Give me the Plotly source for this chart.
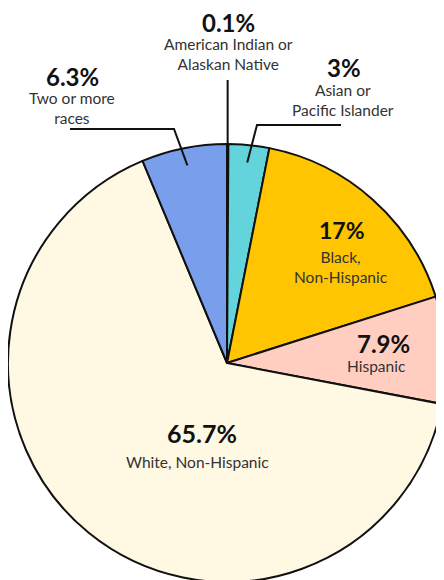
import math
import plotly.graph_objects as go

# ---- data ----
categories = ["American Indian or Alaskan Native", "Asian or Pacific Islander",
              "Black, Non-Hispanic", "Hispanic", "White, Non-Hispanic", "Two or more races"]
values = [0.1, 3, 17, 7.9, 65.7, 6.3]
pct_labels = ["0.1%", "3%", "17%", "7.9%", "65.7%", "6.3%"]
text_labels = ["American Indian or<br>Alaskan Native", "Asian or<br>Pacific Islander",
               "Black,<br>Non-Hispanic", "Hispanic", "White, Non-Hispanic",
               "Two or more<br>races"]
colors = ["#F2614F", "#63D3DC", "#FFC500", "#FFCEC0", "#FFF9E3", "#799EEC"]

OFF = 8  # page body margin
W, H = 444, 580
CX, CY, R = 227, 363, 219  # page pixel coordinates of the pie

def px(x):
    return (x - OFF) / W

def py(y):
    return 1 - (y - OFF) / H

fig = go.Figure(go.Pie(
    labels=categories, values=values, sort=False, direction="clockwise",
    rotation=0, marker=dict(colors=colors, line=dict(color="#111111", width=2)),
    textinfo="none", hoverinfo="skip", showlegend=False,
    domain=dict(x=[max(0, px(CX - R)), min(1, px(CX + R))],
                y=[max(0, py(CY + R)), min(1, py(CY - R))]),
))

# label positions (page pixel centres)
pct_pos = [(228, 23), (344, 67), (342, 230), (383, 343), (202, 433), (72, 76)]
pct_size = [24, 24, 23, 24, 25, 24]
lab_pos = [(228, 54), (343, 100), (341, 267), (376, 366), (197, 462), (72, 108)]

ann = []
for i in range(len(values)):
    ann.append(dict(x=px(pct_pos[i][0]), y=py(pct_pos[i][1]), xref="paper", yref="paper",
                    text="<b>" + pct_labels[i] + "</b>", showarrow=False,
                    xanchor="center", yanchor="middle",
                    font=dict(family="Lato", size=pct_size[i], color="#111111")))
    ann.append(dict(x=px(lab_pos[i][0]), y=py(lab_pos[i][1]), xref="paper", yref="paper",
                    text=text_labels[i], showarrow=False, align="center",
                    xanchor="center", yanchor="middle",
                    font=dict(family="Lato", size=15.5, color="#333333")))

# leader line end points derived from slice mid angles
total = sum(values)
cum = 0
mids = []
for v in values:
    mids.append((cum + v / 2) / total * 2 * math.pi)
    cum += v

def inner_pt(i, f):
    a = mids[i]
    return CX + f * R * math.sin(a), CY - f * R * math.cos(a)

shapes = []
def path(points):
    d = "M " + " L ".join(f"{px(x)} {py(y)}" for x, y in points)
    return dict(type="path", path=d, xref="paper", yref="paper",
                line=dict(color="#111111", width=2))

e0 = inner_pt(0, 0.93)
shapes.append(path([(e0[0], 80), e0]))
e1 = inner_pt(1, 0.92)
shapes.append(path([(341, 125), (257, 125), e1]))
e5 = inner_pt(5, 0.92)
shapes.append(path([(70, 129), (174, 129), e5]))

fig.update_layout(width=W, height=H, margin=dict(l=0, r=0, t=0, b=0),
                  paper_bgcolor="white", plot_bgcolor="white",
                  annotations=ann, shapes=shapes)
fig.write_html("out.html")
